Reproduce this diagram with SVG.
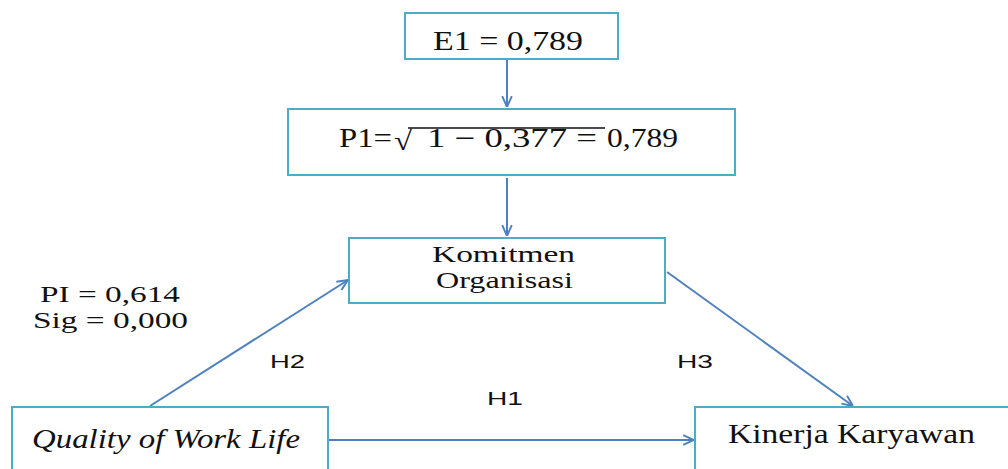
<svg xmlns="http://www.w3.org/2000/svg" width="1008" height="469" viewBox="0 0 1008 469">
<style>
.box{fill:#fff;stroke:#4BACC6;stroke-width:2}
.t{font-family:"Liberation Serif","Times New Roman",serif;font-size:27px;fill:#111}
.t2{font-size:24px}
.s{font-family:"Liberation Sans",Arial,sans-serif;font-size:19px;fill:#111}
.c{stroke:#4F81BD;stroke-width:2;fill:none;marker-end:url(#ah)}
</style>
<defs>
<marker id="ah" markerWidth="12" markerHeight="12" refX="10" refY="5" orient="auto" markerUnits="userSpaceOnUse" viewBox="0 0 10 10">
<path d="M1,1 L10,5 L1,9" fill="none" stroke="#4F81BD" stroke-width="1.6"/>
</marker>
</defs>
<rect width="1008" height="469" fill="#fff"/>
<g id="connectors">
<line class="c" x1="507" y1="59" x2="507" y2="107"/>
<line class="c" x1="507" y1="178" x2="507" y2="236"/>
<line class="c" x1="150" y1="406" x2="348" y2="280"/>
<line class="c" x1="667" y1="272" x2="853" y2="406"/>
<line class="c" x1="328" y1="440" x2="694" y2="440"/>
</g>
<g id="e1">
<rect class="box" x="405" y="13" width="213" height="46"/>
<text class="t" x="433" y="50" textLength="150" lengthAdjust="spacingAndGlyphs">E1 = 0,789</text>
</g>
<g id="p1">
<rect class="box" x="288" y="109" width="447" height="66"/>
<text class="t" x="339" y="147" textLength="53" lengthAdjust="spacingAndGlyphs">P1=</text>
<text class="t" x="394" y="150" font-size="32" textLength="18" lengthAdjust="spacingAndGlyphs">√</text>
<line x1="408" y1="128" x2="605" y2="128" stroke="#111" stroke-width="1.5"/>
<text class="t" x="427" y="147" textLength="170" lengthAdjust="spacingAndGlyphs">1 − 0,377 =</text>
<text class="t" x="607" y="147" textLength="71" lengthAdjust="spacingAndGlyphs">0,789</text>
</g>
<g id="komitmen">
<rect class="box" x="349" y="238" width="316" height="65"/>
<text class="t t2" x="432" y="262" textLength="143" lengthAdjust="spacingAndGlyphs">Komitmen</text>
<text class="t t2" x="436" y="288" textLength="137" lengthAdjust="spacingAndGlyphs">Organisasi</text>
</g>
<g id="qwl">
<rect class="box" x="12" y="407" width="316" height="80"/>
<text class="t" x="32" y="448" font-style="italic" textLength="268" lengthAdjust="spacingAndGlyphs">Quality of Work Life</text>
</g>
<g id="kinerja">
<rect class="box" x="695" y="407" width="330" height="80"/>
<text class="t" x="728" y="443" textLength="247" lengthAdjust="spacingAndGlyphs">Kinerja Karyawan</text>
</g>
<g id="labels">
<text class="t t2" x="40" y="302" textLength="140" lengthAdjust="spacingAndGlyphs">PI = 0,614</text>
<text class="t t2" x="33" y="328" textLength="155" lengthAdjust="spacingAndGlyphs">Sig = 0,000</text>
<text class="s" x="270" y="368" textLength="35" lengthAdjust="spacingAndGlyphs">H2</text>
<text class="s" x="677" y="368" textLength="36" lengthAdjust="spacingAndGlyphs">H3</text>
<text class="s" x="487" y="405" textLength="36" lengthAdjust="spacingAndGlyphs">H1</text>
</g>
</svg>
